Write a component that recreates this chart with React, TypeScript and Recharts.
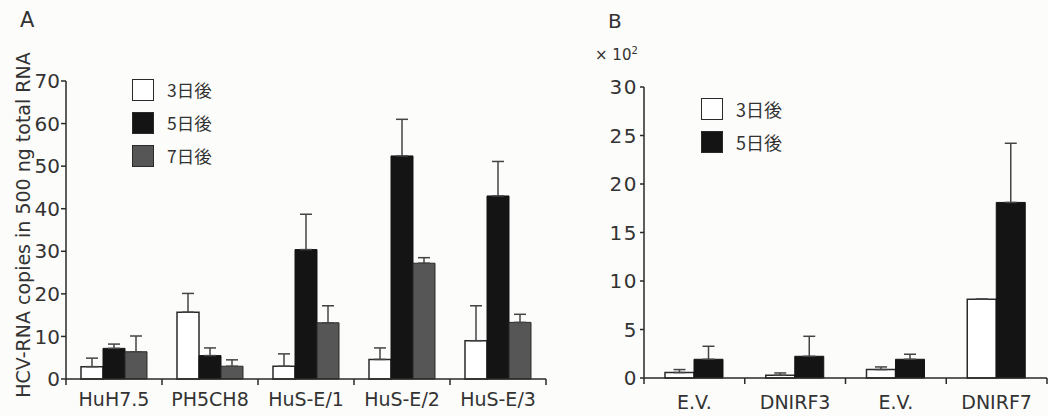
import React from 'react';
import { BarChart, Bar, XAxis, YAxis, ErrorBar, Legend } from 'recharts';

// panel A: HCV-RNA copies, 3 time points
const categoriesA = ['HuH7.5', 'PH5CH8', 'HuS-E/1', 'HuS-E/2', 'HuS-E/3'];
const day3A = [2.9, 15.7, 3.0, 4.6, 9.0];
const day3ErrA = [2.0, 4.4, 2.9, 2.7, 8.2];
const day5A = [7.2, 5.5, 30.4, 52.4, 43.0];
const day5ErrA = [1.0, 1.8, 8.3, 8.6, 8.1];
const day7A = [6.4, 3.0, 13.2, 27.2, 13.3];
const day7ErrA = [3.7, 1.5, 4.0, 1.3, 1.9];
const ticksA = [0, 10, 20, 30, 40, 50, 60, 70];

// panel B: x10^2, 2 time points
const categoriesB = ['E.V.', 'DNIRF3', 'E.V.', 'DNIRF7'];
const day3B = [0.56, 0.28, 0.87, 8.13];
const day3ErrB = [0.31, 0.24, 0.27, 0];
const day5B = [1.93, 2.24, 1.93, 18.1];
const day5ErrB = [1.34, 2.06, 0.52, 6.1];
const ticksB = [0, 5, 10, 15, 20, 25, 30];

const seriesNames = ['3日後', '5日後', '7日後'];

const rowsA = categoriesA.map((name, i) => ({
  name,
  d3: day3A[i],
  d3e: [0, day3ErrA[i]],
  d5: day5A[i],
  d5e: [0, day5ErrA[i]],
  d7: day7A[i],
  d7e: [0, day7ErrA[i]],
}));

const rowsB = categoriesB.map((name, i) => ({
  name,
  d3: day3B[i],
  d3e: [0, day3ErrB[i]],
  d5: day5B[i],
  d5e: [0, day5ErrB[i]],
}));

const INK = '#2a2a2a';
const FONT = '"DejaVu Sans", sans-serif';
const CJK = '"Noto Sans CJK JP", sans-serif';

// category label at band centre, tick mark at band edges
const catTick = (fontSize: number, gap: number) => (props: any) => {
  const { x, y, payload, index } = props;
  const half =
    payload && payload.offset ? payload.offset : props.width / (props.visibleTicksCount || 1) / 2;
  return (
    <g>
      <line x1={x + half} x2={x + half} y1={y} y2={y + 6} stroke={INK} strokeWidth={1.5} />
      {index === 0 && <line x1={x - half} x2={x - half} y1={y} y2={y + 6} stroke={INK} strokeWidth={1.5} />}
      <text x={x} y={y + gap} dy="0.71em" textAnchor="middle" fontSize={fontSize} fontFamily={FONT} fill="#333">
        {payload.value}
      </text>
    </g>
  );
};

const legendContent = (fontSize: number) => (props: any) => (
  <div>
    {(props.payload || []).map((p: any) => (
      <div key={p.value} style={{ display: 'flex', alignItems: 'center', height: 33 }}>
        <span
          style={{
            width: 20,
            height: 20,
            background: p.color,
            border: `1.5px solid ${INK}`,
            display: 'inline-block',
          }}
        />
        <span style={{ marginLeft: 13, fontSize, fontFamily: CJK, color: '#333' }}>{p.value}</span>
      </div>
    ))}
  </div>
);

const yLabel = (p: any) => {
  const vb = p.viewBox || { y: 81, height: 298 };
  const cy = vb.y + vb.height / 2 - 5;
  return (
    <text
      transform={`translate(29.5, ${cy}) rotate(-90)`}
      textAnchor="middle"
      fontSize={19}
      fontFamily={FONT}
      fill="#333"
    >
      HCV-RNA copies in 500 ng total RNA
    </text>
  );
};

export default function App() {
  return (
    <div
      style={{
        position: 'absolute',
        left: 0,
        top: 0,
        width: 1048,
        height: 416,
        background: '#fcfcfa',
        overflow: 'hidden',
      }}
    >
      <div style={{ position: 'absolute', left: 20, top: 8, fontSize: 21, fontFamily: FONT, color: '#333' }}>A</div>
      <div style={{ position: 'absolute', left: 608, top: 9, fontSize: 20, fontFamily: FONT, color: '#333' }}>B</div>
      <div style={{ position: 'absolute', left: 595, top: 45, fontSize: 15, fontFamily: FONT, color: '#333' }}>
        × 10<sup style={{ fontSize: 10 }}>2</sup>
      </div>

      <div style={{ position: 'absolute', left: 0, top: 0 }}>
        <BarChart
          width={560}
          height={416}
          data={rowsA}
          margin={{ top: 81, right: 14, bottom: 0, left: 0 }}
          barGap={0}
          barSize={22}
        >
          <XAxis
            dataKey="name"
            height={37}
            interval={0}
            tickLine={false}
            tickSize={0}
            tickMargin={0}
            axisLine={{ stroke: INK, strokeWidth: 1.5 }}
            tick={catTick(19, 14)}
          />
          <YAxis
            width={66}
            domain={[0, 70]}
            ticks={ticksA}
            tickSize={5}
            tickMargin={1}
            axisLine={{ stroke: INK, strokeWidth: 1.5 }}
            tickLine={{ stroke: INK, strokeWidth: 1.5 }}
            tick={{ fontSize: 20, fontFamily: FONT, fill: '#333' }}
            label={{ content: yLabel }}
          />
          <Legend
            layout="horizontal"
            verticalAlign="middle"
            align="center"
            wrapperStyle={{ left: 132, top: 73, width: 'auto' }}
            content={legendContent(17.5)}
          />
          <Bar dataKey="d3" name={seriesNames[0]} fill="#ffffff" stroke={INK} strokeWidth={1.5} isAnimationActive={false}>
            <ErrorBar dataKey="d3e" direction="y" width={6} stroke="#444" strokeWidth={1.5} />
          </Bar>
          <Bar dataKey="d5" name={seriesNames[1]} fill="#141414" stroke="#141414" strokeWidth={1} isAnimationActive={false}>
            <ErrorBar dataKey="d5e" direction="y" width={6} stroke="#444" strokeWidth={1.5} />
          </Bar>
          <Bar dataKey="d7" name={seriesNames[2]} fill="#565656" stroke="#2a2a2a" strokeWidth={1} isAnimationActive={false}>
            <ErrorBar dataKey="d7e" direction="y" width={6} stroke="#444" strokeWidth={1.5} />
          </Bar>
        </BarChart>
      </div>

      <div style={{ position: 'absolute', left: 560, top: 0 }}>
        <BarChart
          width={488}
          height={416}
          data={rowsB}
          margin={{ top: 87, right: 1, bottom: 0, left: 0 }}
          barGap={0}
          barSize={29}
        >
          <XAxis
            dataKey="name"
            height={38}
            interval={0}
            tickLine={false}
            tickSize={0}
            tickMargin={0}
            axisLine={{ stroke: INK, strokeWidth: 1.5 }}
            tick={catTick(19, 18)}
          />
          <YAxis
            width={84}
            domain={[0, 30]}
            ticks={ticksB}
            tickSize={4}
            tickMargin={2}
            axisLine={{ stroke: INK, strokeWidth: 1.5 }}
            tickLine={{ stroke: INK, strokeWidth: 1.5 }}
            tick={{ fontSize: 20, fontFamily: FONT, fill: '#333', letterSpacing: 1.5 }}
          />
          <Legend
            layout="horizontal"
            verticalAlign="middle"
            align="center"
            wrapperStyle={{ left: 141, top: 92, width: 'auto' }}
            content={legendContent(18)}
          />
          <Bar dataKey="d3" name={seriesNames[0]} fill="#ffffff" stroke={INK} strokeWidth={1.5} isAnimationActive={false}>
            <ErrorBar dataKey="d3e" direction="y" width={6} stroke="#444" strokeWidth={1.5} />
          </Bar>
          <Bar dataKey="d5" name={seriesNames[1]} fill="#141414" stroke="#141414" strokeWidth={1} isAnimationActive={false}>
            <ErrorBar dataKey="d5e" direction="y" width={6} stroke="#444" strokeWidth={1.5} />
          </Bar>
        </BarChart>
      </div>
    </div>
  );
}
